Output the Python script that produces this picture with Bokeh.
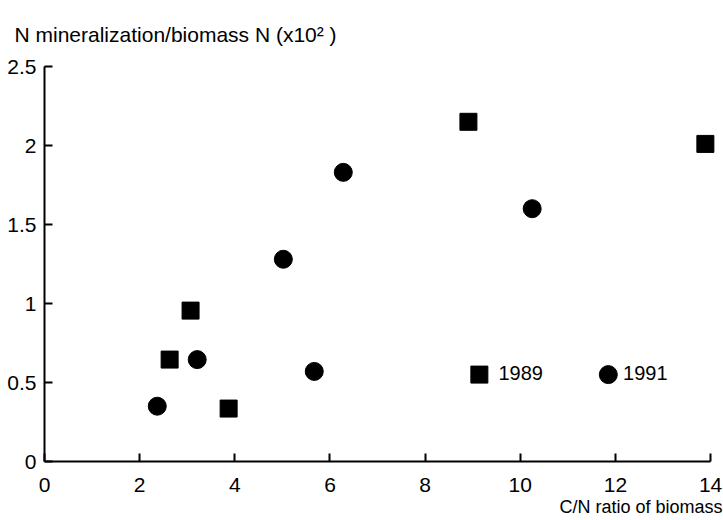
from bokeh.plotting import figure
from bokeh.models import Range1d, FixedTicker, Title
from bokeh.core.properties import value
from bokeh.embed import file_html
from bokeh.resources import INLINE

# C/N ratio of biomass and N mineralization / biomass N (x10^2)
cn_1989 = [2.63, 3.07, 3.87, 8.91, 13.89]
nmin_1989 = [0.645, 0.955, 0.335, 2.15, 2.01]

cn_1991 = [2.37, 3.21, 5.02, 5.67, 6.28, 10.25]
nmin_1991 = [0.35, 0.645, 1.28, 0.57, 1.83, 1.60]

series_names = ["1989", "1991"]

x_ticks = [0, 2, 4, 6, 8, 10, 12, 14]
y_ticks = [0, 0.5, 1, 1.5, 2, 2.5]
y_tick_labels = ["0", "0.5", "1", "1.5", "2", "2.5"]

y_title = "N mineralization/biomass N (x10\u00b2 )"
x_title = "C/N ratio of biomass"

FONT = "Liberation Sans"

p = figure(width=723, height=520, output_backend="svg", toolbar_location=None,
           x_range=Range1d(0, 14.25), y_range=Range1d(0, 2.5),
           min_border_left=44, min_border_right=1,
           min_border_top=66, min_border_bottom=59)
p.outline_line_color = None
p.grid.visible = False
p.background_fill_color = "white"
p.border_fill_color = "white"

for ax in (p.xaxis[0], p.yaxis[0]):
    ax.axis_line_width = 2
    ax.axis_line_color = "black"
    ax.major_tick_line_width = 2
    ax.major_tick_line_color = "black"
    ax.major_tick_in = 8
    ax.major_tick_out = 0
    ax.minor_tick_line_color = None
    ax.major_label_text_font = FONT
    ax.major_label_text_font_size = "21px"
    ax.major_label_text_color = "black"

p.xaxis.ticker = FixedTicker(ticks=x_ticks)
p.xaxis.bounds = (0, 14)
p.xaxis.major_label_standoff = 16

p.yaxis.ticker = FixedTicker(ticks=y_ticks)
p.yaxis.major_label_overrides = {t: s for t, s in zip(y_ticks, y_tick_labels)}
p.yaxis.major_label_standoff = 8

p.scatter(cn_1989, nmin_1989, marker="square", size=17,
          fill_color="black", line_color="black")
p.scatter(cn_1991, nmin_1991, marker="circle", size=18,
          fill_color="black", line_color="black")

# key, set inside the plot area at y = 0.55
key_marker_x = [9.14, 11.85]
key_text_x = [9.54, 12.16]
key_y = [0.55, 0.55]
p.scatter(key_marker_x[:1], key_y[:1], marker="square", size=17,
          fill_color="black", line_color="black")
p.scatter(key_marker_x[1:], key_y[1:], marker="circle", size=18,
          fill_color="black", line_color="black")
p.text(key_text_x, [v + 0.01 for v in key_y], text=series_names,
       text_font=value(FONT), text_font_size="20px", text_color="black",
       text_align="left", text_baseline="middle")

# y axis title across the top, x axis title right-aligned at the bottom
p.title.text = y_title
p.title.align = "left"
p.title.vertical_align = "top"
p.title.offset = -30
p.title.standoff = 38
p.title.text_font = FONT
p.title.text_font_size = "21px"
p.title.text_font_style = "normal"
p.title.text_color = "black"

p.add_layout(Title(text=x_title, align="right", offset=0, standoff=0,
                   text_font=FONT, text_font_size="18px",
                   text_font_style="normal", text_color="black"), "below")

open("out.html", "w").write(file_html(p, INLINE))
